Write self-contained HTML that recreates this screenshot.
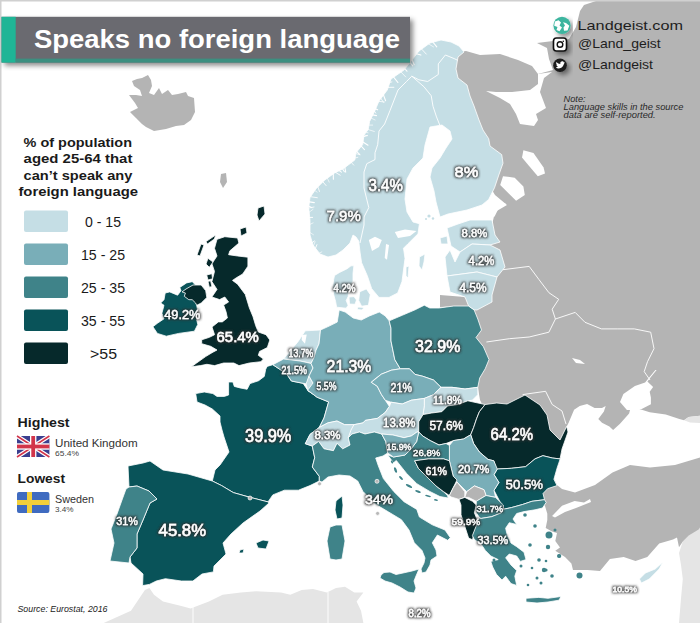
<!DOCTYPE html>
<html><head><meta charset="utf-8">
<style>
html,body{margin:0;padding:0;background:#fff;}
body{width:700px;height:623px;overflow:hidden;position:relative;font-family:"Liberation Sans",sans-serif;}
svg{position:absolute;left:0;top:0;}
.lb{font-family:"Liberation Sans",sans-serif;fill:#fff;stroke:#3a3a3a;stroke-width:1.6px;paint-order:stroke;stroke-linejoin:round;}
.big{font-size:16px;font-weight:bold;}
.sm{font-size:11px;font-weight:bold;stroke-width:1.4px;}
</style></head><body>
<svg width="700" height="623" viewBox="0 0 700 623">
<rect x="0" y="0" width="700" height="623" fill="#fff"/>
<path fill="#e5e5e5" d="M103.7,623 L131,610.7 L144.9,590 L149.4,587.9 L154,594.7 L163,601.6 L181.4,606 L190.6,608.4 L208.9,601.6 L222.6,594.7 L240.9,592.4 L256,591.3 L281,592.4 L290.3,594.7 L301.7,590 L313,589 L326.9,592.4 L336,587.9 L345,586.7 L354.3,592.4 L363.4,592.4 L356.6,601.6 L361,610.7 L363.4,623 Z"/>
<path fill="#e5e5e5" d="M682.8,541.4 L688.8,535.5 L700,527.6 L700,623 L679,623 L681,598.6 L682.8,579 L681,565 L679,553 Z"/>
<path fill="#b4b4b4" d="M596,1 L700,1 L700,527.6 L698.6,529.6 L688.8,535.5 L682.8,541.4 L679,547.3 L677,537.5 L673,539.4 L659.2,543.4 L647.3,557 L635.5,561 L623.7,557 L609.9,559 L600,571 L587.5,570 L573,570 L571.4,563.5 L565,557 L555.3,550.7 L560,547.5 L555.3,541 L557,533 L552,531.4 L545.7,528 L547.3,520 L547.3,513.7 L545,506 L540,498 L520,490 L500,440 L480,400 L470,340 L467,306 L440,307 L440,295 L465,297 L480,260 L492,225 L495,212 L507,205 L495,195 L480,170 L470,130 L455,90 L452,60 L458,52 L466,51 L480,55 L500,54 L518,60 L532,66 L538,74 L553,70 L549,59 L547,48 L537,43 L553,41 L569,39 L576,27 L580,11 L584,5 Z"/>
<path fill="#fff" d="M538,74 L552,72 L544,78 L540,92 L546,108 L536,114 L538,120 L534,126 L520,124 L516,114 L510,104 L500,98 L486,91 L496,92 L512,92 L530,90 L538,84 Z"/>
<path fill="#fff" d="M480,202.3 L491.6,199.4 L506,203.7 L498.8,208 L494.5,216.7 L488,214 Z"/>
<path fill="#fff" d="M503,176.2 L514.7,177.7 L523.4,186.4 L524.8,195 L516.1,200.8 L506,190.7 L500.2,185 Z"/>
<path fill="#fff" d="M523.4,150.2 L533.5,153 L543.6,167.6 L545,173.4 L537.8,176.2 L529.1,166 L522,157.5 Z"/>
<path fill="#fff" d="M572,358 L580,360 L585,364 L576,363 Z"/>
<path fill="#fff" d="M566.7,426.4 L568.6,422.7 L574.1,409.7 L579.7,406 L587.1,404.1 L594.6,407.9 L602,407.9 L605.7,406 L603.9,411.6 L598.3,419 L602,422.7 L609.4,426.4 L613.1,430.1 L620,423.7 L629.1,413.4 L630,410 L626.9,410 L620,402 L623.4,394 L634.9,386 L645.1,382.6 L655.4,370 L656.6,370 L650.9,376.9 L647.4,381.4 L653.1,387.1 L649.7,391.7 L650.9,397.4 L650.9,404.3 L641.7,408.9 L639.4,408.9 L649.7,412.3 L665.7,414.6 L679.4,419.1 L684,420.3 L688.6,416.9 L700,415.7 L700,457.5 L675,465 L650,467.5 L630,465 L612.5,472.5 L595,485 L575,492.5 L562,489 L557,485 L554,479 L557,468 L560,459 L562,449 L560,440 Z"/>
<path fill="#e5e5e5" d="M684,420.3 L688.6,416.9 L700,415.7 L700,423 L690,422.5 Z"/>
<path fill="#fff" d="M552,516 L555,513 L562,505.7 L574.6,501 L584,502.5 L590,499 L591,502 L576,508 L565,512 L555,517.5 Z"/>
<path fill="#b4b4b4" d="M132,81 L137,79 L142,78 L148,75 L151,80 L152,86 L149,93 L154,95 L159,88 L162,94 L168,90 L172,95 L178,94 L186,92 L188,96 L194,98 L195,112 L191,120 L184,125 L176,126 L166,129 L154,131 L146,127 L142,124 L136,118 L130,112 L138,108 L135,103 L129,95 L136,95 L142,96 L140,90 L134,86 Z"/>
<path fill="#c5dee5" stroke="#fff" stroke-width="0.8" stroke-linejoin="round" d="M441,40 L451,42 L459,46 L464,52 L458,57 L456,69 L458,78 L467,85 L470,96 L474,106 L479,120 L483,130 L488.7,138.7 L490,146 L501.7,154.6 L503,163.2 L498.8,175 L494.5,187.8 L488.7,199.4 L482,205 L467,210 L448,214 L440,217 L436,202 L434,191 L430,177 L432,168 L440,158 L446,148 L452,139 L450,131 L442,125 L430,127 L425,145 L423,158 L413,168 L407,179 L405,199 L407,212 L413,222 L419.4,223.7 L418,233.8 L407.8,243.9 L403.5,248.2 L405,258.4 L403.5,270 L402,281.5 L397.7,293 L389,297.4 L379,297.4 L371.7,288.7 L367.3,275.7 L361.6,262.7 L360,252 L358.7,241 L356,237 L353,235 L350,243 L343,250 L336,255 L328,257 L320,254 L313,245 L310,235 L310,220.6 L308.7,207.6 L310,197.5 L315.9,188.9 L324.5,180.2 L334.6,173 L343.3,168.7 L354.8,160 L356,152.8 L362.7,144.6 L364,135 L368.2,129.6 L369.6,121.4 L375,110.5 L379,101 L387.3,90 L391,79 L404,70 L419,51 L430,43 Z"/>
<path fill="#fff" d="M368.8,240 L375,236.7 L381.8,240 L379,247 L372,251 Z"/>
<path fill="#fff" d="M386,244 L389,245 L387,259.8 L384.7,258 Z"/>
<path fill="#fff" d="M394.8,232 L405,229.5 L416.5,231 L410,236 L398,238 Z"/>
<path fill="#c5dee5" stroke="#fff" stroke-width="0.8" stroke-linejoin="round" d="M419.4,257 L425,254 L424,262 L422,270 L419,266 Z"/>
<path fill="#c5dee5" stroke="#fff" stroke-width="0.8" stroke-linejoin="round" d="M406,267 L409,266 L408,278 L406,276 Z"/>
<path fill="#06292b" stroke="#fff" stroke-width="0.8" stroke-linejoin="round" d="M240,229 L246,227 L247,233 L241,236 Z"/>
<path fill="#06292b" stroke="#fff" stroke-width="0.8" stroke-linejoin="round" d="M258,208 L264,206 L265,214 L259,221 L257,215 Z"/>
<path fill="#b4b4b4" d="M221,174 L226,173 L227,182 L223,188 L220,182 Z"/>
<path fill="#c5dee5" stroke="#fff" stroke-width="0.8" stroke-linejoin="round" d="M351,265.8 L347.2,268.7 L339.5,272.5 L334.6,275.4 L333.7,279.3 L332.7,287 L333.7,294.7 L335.6,301.4 L336.6,307.2 L346.2,308.2 L348.1,305.3 L346.2,300.5 L348.1,296.6 L349,288.9 L353,281.2 L353,273.5 L353.9,265.8 Z"/>
<path fill="#c5dee5" stroke="#fff" stroke-width="0.8" stroke-linejoin="round" d="M349,297 L354,296.6 L356.5,300 L355,304.3 L349.5,304 Z"/>
<path fill="#c5dee5" stroke="#fff" stroke-width="0.8" stroke-linejoin="round" d="M359.7,291.8 L366.4,288.9 L370.3,294.7 L368.4,305.3 L361.6,306.2 L358.7,300.5 Z"/>
<path fill="#c5dee5" stroke="#fff" stroke-width="0.8" stroke-linejoin="round" d="M358,307 L364,307.5 L362,310 L357,309.5 Z"/>
<path fill="#06292b" stroke="#fff" stroke-width="0.8" stroke-linejoin="round" d="M217,239.3 L224.8,236.7 L237.6,238 L238.9,243.1 L229.9,250.8 L228.6,254.7 L237.6,256 L247.9,257.2 L247.9,266.2 L242.7,274 L236.3,277.8 L232.5,280.4 L237.6,284.2 L245.3,294.5 L249.3,307.7 L253,316.7 L255.7,325.7 L258.3,332 L266,334.7 L269.8,340 L267.3,347.6 L259.6,351.4 L258.3,355.3 L263.4,359 L260.8,361.7 L249.3,363 L239,365.6 L233.8,363 L223.6,363 L214.6,365.6 L206.9,364.3 L200.4,365.6 L191.4,366.8 L196.6,363 L205.6,356.6 L212,352.7 L217,350 L210.7,346.3 L201.7,343.7 L201.7,339.8 L209.4,337.3 L214.6,334.7 L212,327 L218.4,321.9 L222.3,321.9 L227.4,318 L226,311.6 L223.6,305 L228.6,302 L224.8,297 L219.6,299.6 L211.9,297 L217,289.4 L211.9,281.6 L214.5,271.4 L211.9,263.7 L217,256 L214.5,248.3 Z"/>
<path fill="#06292b" stroke="#fff" stroke-width="0.8" stroke-linejoin="round" d="M206,241.6 L215.7,235 L214.4,239 L207.4,244 Z"/>
<path fill="#06292b" stroke="#fff" stroke-width="0.8" stroke-linejoin="round" d="M201,244 L204,245 L200,256 L197,255 Z"/>
<path fill="#06292b" stroke="#fff" stroke-width="0.8" stroke-linejoin="round" d="M208,258.3 L213,262 L209.3,267.3 L206,264 Z"/>
<path fill="#06292b" stroke="#fff" stroke-width="0.8" stroke-linejoin="round" d="M206.7,275 L211.9,273.7 L212.5,278.8 L208,280 Z"/>
<path fill="#06292b" stroke="#fff" stroke-width="0.8" stroke-linejoin="round" d="M208,281.4 L210.6,280.8 L211.9,286.6 L209.3,287.2 Z"/>
<path fill="#095359" stroke="#fff" stroke-width="0.8" stroke-linejoin="round" d="M179.8,287.4 L186.6,282.9 L192.2,281.7 L195.6,285 L201.2,285 L205.7,290.7 L206.8,297.5 L201.2,303 L196.7,305.3 L197.8,311 L196.7,320 L197.8,324.4 L194.4,331.2 L178.7,333.4 L166.3,336.2 L157.4,333.4 L152.9,326.7 L157.4,323.3 L164,318.8 L161.9,313.2 L164,305.3 L160.7,303 L164,299.7 L165.2,293 L169.7,291.9 L177.6,295.2 L181,290.7 Z"/>
<path fill="#06292b" stroke="#fff" stroke-width="0.8" stroke-linejoin="round" d="M193,285 L201.2,285 L205.7,290.7 L206.8,297.5 L201.2,303 L196.7,305.3 L195.6,303 L192.2,299.7 L188.8,299.7 L184.3,296.3 L185.4,293 L182,291.9 L186,289 Z"/>
<path fill="#095359" stroke="#fff" stroke-width="0.8" stroke-linejoin="round" d="M195.7,393.6 L204.3,392 L212.9,393.6 L217,396.4 L224.3,396.4 L228.6,395 L228.6,382 L232.9,382 L234.3,386.4 L240,387.9 L247.1,389.3 L250,383.6 L258.6,380.7 L264.3,376.4 L265.7,369.3 L267.1,366.4 L272.8,364.7 L279.8,369.3 L286.7,374 L291.4,381 L303,383.3 L307.7,390.2 L317,397.2 L328.6,401.9 L324,418 L319.3,427.4 L310,434.4 L305.3,443.7 L312.3,446 L314.7,457.7 L312.3,467 L319.3,476.3 L319.3,481 L310,485.6 L298.4,490.2 L284.4,490.2 L272.8,494.9 L268,501.9 L249.5,497.2 L233.3,492.6 L221.6,485.6 L212.3,481 L215,470 L220,465 L229,452 L224,437 L222,430 L220,422 L220,416 L212.3,409 L205,405 L197,402 Z"/>
<path fill="#095359" stroke="#fff" stroke-width="0.8" stroke-linejoin="round" d="M336,501 L342,496 L343,505 L342,518 L337,519 L335,510 Z"/>
<path fill="#c5dee5" stroke="#fff" stroke-width="0.8" stroke-linejoin="round" d="M305.3,330.8 L320.5,330 L319,343.8 L316,350.3 L314,357.6 L311,363.4 L300,361 L283.6,359 L290.8,350.3 L298,341.7 Z"/>
<path fill="#fff" d="M302,335 L306.7,334.5 L305,343.8 L301.7,340 Z"/>
<path fill="#79aeb8" stroke="#fff" stroke-width="0.8" stroke-linejoin="round" d="M272.8,364.7 L283.6,359 L300,361 L311,363.4 L313,368 L309,376 L307,384 L303,383.3 L291.4,381 L286.7,374 L279.8,369.3 Z"/>
<path fill="#c5dee5" stroke="#fff" stroke-width="0.8" stroke-linejoin="round" d="M306,384 L309,376 L313,383 L315,390 L313,394 L308,391 Z"/>
<path fill="#79aeb8" stroke="#fff" stroke-width="0.8" stroke-linejoin="round" d="M339.2,310 L345.2,312 L353.2,318 L361.3,320 L369.3,316 L379.3,312 L385.3,316 L389.2,320.8 L391,328.2 L391,341 L394.8,359.6 L400.3,368.8 L391.4,370.2 L381.3,374.2 L373.3,380.3 L371.3,382.3 L377.3,386.3 L381.3,394.3 L385.3,400.3 L389.4,406.4 L385.3,412.4 L377.3,418.4 L365.3,420.4 L363,422.9 L353.9,424.7 L344.6,424.7 L337,421 L327.9,422.9 L319.3,427.4 L324,418 L328.6,401.9 L317,397.2 L307.7,390.2 L313,383 L309,376 L313,368 L311,363.4 L314,357.6 L316,350.3 L319,343.8 L320.5,330 L329.1,326.1 L337.2,322.1 Z"/>
<path fill="#3f8389" stroke="#fff" stroke-width="0.8" stroke-linejoin="round" d="M389.2,320.8 L402.2,315.3 L415.1,309.8 L424.3,305.2 L429.8,308 L439,308 L453.8,306 L468.6,306 L474.1,309.8 L477.8,319 L481.5,330 L476,337.5 L483.4,346.7 L489,359.6 L485.2,368.8 L479.7,378 L477.8,387.3 L465,389 L452,387.3 L441,387.3 L433.5,380 L422.5,376.2 L415,374.4 L409.5,368.8 L400.3,368.8 L394.8,359.6 L391,341 L391,328.2 Z"/>
<path fill="#79aeb8" stroke="#fff" stroke-width="0.8" stroke-linejoin="round" d="M371.3,382.3 L381.3,374.2 L391.4,370.2 L400.3,368.8 L409.5,368.8 L415,374.4 L422.5,376.2 L433.5,380 L441,387.3 L433.5,394.7 L424.3,398.4 L411.4,400.2 L402.2,404 L391,402.2 L385.3,400.3 L381.3,394.3 L377.3,386.3 Z"/>
<path fill="#c5dee5" stroke="#fff" stroke-width="0.8" stroke-linejoin="round" d="M441,387.3 L452,387.3 L465,389 L477.8,387.3 L477.8,394.7 L472.3,400.2 L467.8,400.8 L457.7,404.5 L447.6,405.9 L441.8,411.7 L431.7,413 L423,414.6 L424.3,405.8 L424.3,398.4 L433.5,394.7 Z"/>
<path fill="#c5dee5" stroke="#fff" stroke-width="0.8" stroke-linejoin="round" d="M305.3,443.7 L310,434.4 L319.3,427.4 L327.9,422.9 L337,421 L344.6,424.7 L353.9,424.7 L363,422.9 L365.3,420.4 L377.3,418.4 L385.3,412.4 L389.4,406.4 L391,402.2 L402.2,404 L411.4,400.2 L424.3,398.4 L424.3,405.8 L423,414.6 L418.7,421.8 L418.7,432 L417,432 L411.4,435.9 L404,437.7 L392.9,435 L381.7,434 L374.3,432 L365,434 L359.4,432 L352,434 L348.3,437.7 L350,445 L342.7,448.8 L337,443.3 L333.4,450.7 L324,448.8 L318.6,441.4 L312.3,446 Z"/>
<path fill="none" d="M0,0 L0,0 L0,0 Z"/>
<path fill="#3f8389" stroke="#fff" stroke-width="0.8" stroke-linejoin="round" d="M319.3,481 L319.3,476.3 L312.3,467 L314.7,457.7 L312.3,446 L318.6,441.4 L324,448.8 L333.4,450.7 L337,443.3 L342.7,448.8 L350,445 L348.3,437.7 L352,434 L359.4,432 L365,434 L374.3,432 L381.7,434 L385.8,441.6 L387.7,453 L383,456 L375.7,458 L378.3,465.7 L383.4,478.6 L393.7,491.4 L404,501.7 L416.8,509.4 L419.4,517 L432.3,524.8 L445,530 L450.3,537.7 L447.7,540.3 L437.4,535 L432.3,542.8 L436,550 L437,556 L431,560 L430,565 L426,572 L422,573 L421,569 L424,563 L425,558 L422,550.5 L414.3,542.8 L409,530 L401.4,519.7 L388.6,512 L375.7,504.3 L362.9,491.4 L357.7,481 L350,476 L339,475 L328,477 L322,482 Z"/>
<path fill="#3f8389" stroke="#fff" stroke-width="0.8" stroke-linejoin="round" d="M381,575 L384,572.5 L390,572 L396,574.5 L403,573 L412,571 L419,569 L416,576 L414,581 L416,588 L414,593 L408,592 L400,587 L392,583 L385,581 L380,578 Z"/>
<path fill="#3f8389" stroke="#fff" stroke-width="0.8" stroke-linejoin="round" d="M330,527 L336,525 L342,525 L345,541 L342,559 L336,560 L330,559 L327,541 Z"/>
<path fill="#095359" stroke="#fff" stroke-width="0.8" stroke-linejoin="round" d="M128,466 L143,463 L150,461 L163,470 L188,474 L212.3,481 L221.6,485.6 L233.3,492.6 L249.5,497.2 L268,501.9 L269,503 L260,511 L243,523 L231,534 L223,543 L226,554 L214,566 L213.4,571.9 L202,574 L192.9,581 L181.4,581 L165.4,578.7 L156.3,581 L149.4,584.4 L142.6,585.6 L143,574 L131,563 L130,557 L137,548 L137,534 L143,520 L150,503 L157,499 L149,491 L137,486 L129,487 Z"/>
<path fill="#3f8389" stroke="#fff" stroke-width="0.8" stroke-linejoin="round" d="M129,487 L137,486 L149,491 L157,499 L150,503 L143,520 L137,534 L137,548 L130,557 L129,563 L110,561 L114,543 L111,529 L117,514 L122,500 L126,489 Z"/>
<path fill="#095359" stroke="#fff" stroke-width="0.8" stroke-linejoin="round" d="M256,543 L263,540 L269,541 L266,549 L258,548 Z"/>
<path fill="#095359" stroke="#fff" stroke-width="0.8" stroke-linejoin="round" d="M240,550 L244,549 L243,553 L239,553 Z"/>
<path fill="#06292b" stroke="#fff" stroke-width="0.8" stroke-linejoin="round" d="M423,414.6 L431.7,413 L441.8,411.7 L447.6,405.9 L457.7,404.5 L467.8,400.8 L478,403 L485.1,404.5 L479.4,411.7 L476.5,418.9 L473.6,427.6 L470.7,434.8 L463.5,439 L453.4,440.6 L446,443.5 L439,445 L430.2,440.6 L423,436.2 L418.7,432 L418.7,421.8 Z"/>
<path fill="#06292b" stroke="#fff" stroke-width="0.8" stroke-linejoin="round" d="M485.1,404.5 L496.7,403 L507,404 L525,395 L540,405 L547,415 L550,430 L560,440 L566.7,426.4 L568,432 L562,449 L560,459 L552.3,458 L542.9,455.7 L535,458.9 L525.6,466.7 L511.4,468.3 L497.3,469 L496.7,471 L493.8,460.8 L488,459.4 L479.4,452 L473.6,443.5 L470.7,434.8 L473.6,427.6 L476.5,418.9 L479.4,411.7 Z"/>
<path fill="#095359" stroke="#fff" stroke-width="0.8" stroke-linejoin="round" d="M497.3,469 L511.4,468.3 L525.6,466.7 L535,458.9 L542.9,455.7 L552.3,458 L560.2,458.9 L557,468.3 L553.9,479.3 L557,485.6 L547.6,488.7 L543,493.5 L544.5,499.7 L531.9,501.3 L522.5,504.5 L511.4,507.6 L503.6,509.2 L498.9,499.7 L494,490.3 L498.9,482.5 L494,474.6 Z"/>
<path fill="#79aeb8" stroke="#fff" stroke-width="0.8" stroke-linejoin="round" d="M449.4,445.4 L453.4,440.6 L463.5,439 L470.7,434.8 L473.6,443.5 L479.4,452 L488,459.4 L493.8,460.8 L497.3,469 L494,474.6 L498.9,482.5 L494,490.3 L495.6,497.4 L486,495.5 L484,489.7 L474.4,485.9 L466.7,491.7 L457,482 L453.2,476.2 L449.4,460.8 L449.4,453 Z"/>
<path fill="#3f8389" stroke="#fff" stroke-width="0.8" stroke-linejoin="round" d="M418.7,432 L423,436.2 L430.2,440.6 L439,445 L446,443.5 L449.4,445.4 L449.4,453 L449.4,460.8 L443.6,458.9 L428.2,458.9 L414.7,460.8 L418.5,468.5 L428.2,478.2 L436,485.9 L443.6,491.7 L447.4,495.5 L448.4,498 L440,496.6 L429.7,491.4 L416.8,483.7 L406.6,473.4 L396.3,460.5 L393.5,462.8 L387.7,455 L393.5,457 L405,455 L410.8,449.3 L416.6,441.6 Z"/>
<path fill="#79aeb8" stroke="#fff" stroke-width="0.8" stroke-linejoin="round" d="M381.7,434 L392.9,435 L404,437.7 L411.4,435.9 L417,432 L418.7,432 L416.6,441.6 L410.8,449.3 L405,455 L393.5,457 L387.7,453 L385.8,441.6 Z"/>
<path fill="#06292b" stroke="#fff" stroke-width="0.8" stroke-linejoin="round" d="M414.7,460.8 L428.2,458.9 L443.6,458.9 L449.4,460.8 L453.2,476.2 L457,480 L453.2,487.8 L449.4,495.5 L443.6,491.7 L436,485.9 L428.2,478.2 L418.5,468.5 Z"/>
<path fill="#b4b4b4" stroke="#fff" stroke-width="0.8" stroke-linejoin="round" d="M449.4,495.5 L453.2,487.8 L457,482 L464.8,491.7 L464.8,497.4 L459,499.4 L451.3,497 Z"/>
<path fill="#b4b4b4" stroke="#fff" stroke-width="0.8" stroke-linejoin="round" d="M466.7,491.7 L474.4,485.9 L484,489.7 L486,495.5 L476.3,501.3 L468.6,497.4 L464.8,497.4 Z"/>
<path fill="#06292b" stroke="#fff" stroke-width="0.8" stroke-linejoin="round" d="M459,499.4 L464.8,497.4 L472.5,501.3 L476.3,505 L474.4,512.8 L478.3,522.5 L474.4,532 L472.5,539.8 L468.6,538 L464.8,526.3 L461,514.8 L461,505.1 Z"/>
<path fill="#3f8389" stroke="#fff" stroke-width="0.8" stroke-linejoin="round" d="M476.3,501.3 L486,495.5 L495.6,497.4 L503.3,505 L503.6,509.2 L501.4,512.8 L491.7,516.7 L480.2,518.6 L476.3,512.8 L476.3,505 Z"/>
<path fill="#3f8389" stroke="#fff" stroke-width="0.8" stroke-linejoin="round" d="M472.4,535.6 L476,526.4 L479.8,517 L480.2,518.6 L491.7,516.7 L501.4,512.8 L503.6,509.2 L511.4,507.6 L522.5,504.5 L531.9,501.3 L544.5,499.7 L546.2,502.4 L542.5,508 L535,509.8 L524,511.6 L516.7,513.5 L513,519 L516.7,524.5 L509.3,522.7 L505.6,528.2 L507.4,535.6 L511,543 L516.7,546.7 L524,552.2 L526,559.6 L520.3,561.4 L516.7,556 L509.3,554 L505.6,557.7 L511,565 L516.7,570.6 L514.8,576.2 L516.7,585.4 L511,583.6 L505.6,576.2 L502,580 L496.4,574.3 L492.7,567 L490.8,561.4 L498.2,559.6 L490.8,556 L485.3,550.4 L481.6,544.8 L474.2,539.3 Z"/>
<path fill="#3f8389" stroke="#fff" stroke-width="0.8" stroke-linejoin="round" d="M526,598.3 L538.8,597.4 L548,598.3 L561,596.5 L559,600.2 L548,602 L537,603 L526,602 Z"/>
<path fill="#c5dee5" stroke="#fff" stroke-width="0.8" stroke-linejoin="round" d="M447,228 L458,224 L470,220 L492,220 L495,235 L500,242 L490,245 L472,244 L460,252 L451,246 Z"/>
<path fill="#c5dee5" stroke="#fff" stroke-width="0.8" stroke-linejoin="round" d="M445,257 L450,250 L455,262 L460,252 L472,244 L490,245 L500,250 L505,267 L497,277 L477,272 L447,276 Z"/>
<path fill="#c5dee5" stroke="#fff" stroke-width="0.8" stroke-linejoin="round" d="M447,276 L477,272 L497,277 L492,295 L492,302 L477,310 L474.1,309.8 L468.6,306 L465,297 L450,292 Z"/>
<path fill="#c5dee5" stroke="#fff" stroke-width="0.8" stroke-linejoin="round" d="M440,238 L447,236 L448,244 L441,244 Z"/>
<path fill="#c5dee5" stroke="#fff" stroke-width="0.8" stroke-linejoin="round" d="M639.4,579 L645.4,573 L655.2,569 L663,562 L659.2,569 L649.3,579 L641.4,583 Z"/>
<circle cx="525" cy="515" r="1.8" fill="#3f8389"/>
<circle cx="535" cy="526" r="1.8" fill="#3f8389"/>
<circle cx="549" cy="535" r="3.5" fill="#3f8389"/>
<circle cx="548" cy="547" r="2.2" fill="#3f8389"/>
<circle cx="559.5" cy="556" r="1.8" fill="#3f8389"/>
<circle cx="579.5" cy="575.5" r="3" fill="#3f8389"/>
<circle cx="546" cy="570" r="1.6" fill="#3f8389"/>
<circle cx="530" cy="545" r="1.8" fill="#3f8389"/>
<circle cx="539" cy="560" r="1.8" fill="#3f8389"/>
<circle cx="544" cy="570" r="2.2" fill="#3f8389"/>
<circle cx="559" cy="556" r="2" fill="#3f8389"/>
<circle cx="552" cy="576" r="1.8" fill="#3f8389"/>
<circle cx="537" cy="578" r="1.5" fill="#3f8389"/>
<circle cx="546" cy="561" r="1.3" fill="#3f8389"/>
<circle cx="555" cy="530" r="1.5" fill="#3f8389"/>
<circle cx="521" cy="566" r="1.5" fill="#3f8389"/>
<circle cx="532" cy="568" r="1.3" fill="#3f8389"/>
<circle cx="541" cy="583" r="1.5" fill="#3f8389"/>
<circle cx="528" cy="585" r="1.3" fill="#3f8389"/>
<circle cx="498" cy="548" r="1.5" fill="#3f8389"/>
<circle cx="494" cy="560" r="1.5" fill="#3f8389"/>
<path fill="none" stroke="#fff" stroke-width="0.9" stroke-linejoin="round" d="M353.9,424.7 L351,430 L348.3,437.7"/>
<path fill="none" stroke="#fff" stroke-width="0.9" stroke-linejoin="round" d="M193,605 L193,623"/>
<path fill="none" stroke="#fff" stroke-width="0.9" stroke-linejoin="round" d="M328,592 L328,623"/>
<path fill="none" stroke="#fff" stroke-width="0.9" stroke-linejoin="round" d="M411.8,76.2 L406.5,81.5 L398,90 L390,110.5 L384.6,124 L379,131 L377.7,144.6 L375,152.8 L375,159.6 L366.8,163.7 L364,172 L364,188 L368.8,207.6 L364,217 L364,225 L360,243"/>
<path fill="none" stroke="#fff" stroke-width="0.9" stroke-linejoin="round" d="M411.8,76.2 L424,86.8 L431.2,95.7 L433,106.3 L436.5,116.9 L440,125.7"/>
<path fill="none" stroke="#fff" stroke-width="0.9" stroke-linejoin="round" d="M411.8,76.2 L418.9,79.8 L427.7,81.5 L438.3,74.5 L438.3,63.9 L445.4,55 L454.2,58.6 L457.7,60.3"/>
<path fill="none" stroke="#fff" stroke-width="0.9" stroke-linejoin="round" d="M502.9,269.7 L529.2,266.4 L539,279.6 L548.9,292.7 L558.7,299.3 L552.2,309.2 L555.4,319"/>
<path fill="none" stroke="#fff" stroke-width="0.9" stroke-linejoin="round" d="M486.4,342 L509.4,338.7 L529.2,337 L548.9,332.2 L555.4,319"/>
<path fill="none" stroke="#fff" stroke-width="0.9" stroke-linejoin="round" d="M555.4,319 L575.2,312.4 L585,322.3 L601.4,328.9 L617.9,328.9 L634.3,328.9 L650.7,332.2 L654,348.6 L647.5,361.7 L644.2,371.6 L650,380"/>
<path fill="none" stroke="#fff" stroke-width="0.9" stroke-linejoin="round" d="M522.6,394.6 L545.6,391.3 L552.2,404.5 L562,411 L566,424"/>
<path d="M318.0,253.8 L321.8,251.9" stroke="#fff" stroke-width="0.64" stroke-linecap="round"/>
<path d="M314.9,249.6 L316.9,244.7" stroke="#fff" stroke-width="0.90" stroke-linecap="round"/>
<path d="M312.9,247.1 L315.1,241.8" stroke="#fff" stroke-width="0.65" stroke-linecap="round"/>
<path d="M311.0,243.4 L314.4,241.0" stroke="#fff" stroke-width="0.98" stroke-linecap="round"/>
<path d="M308.7,231.7 L313.4,234.7" stroke="#fff" stroke-width="0.63" stroke-linecap="round"/>
<path d="M308.6,225.0 L313.1,222.9" stroke="#fff" stroke-width="0.67" stroke-linecap="round"/>
<path d="M308.2,217.4 L312.6,217.4" stroke="#fff" stroke-width="0.98" stroke-linecap="round"/>
<path d="M307.9,213.1 L313.0,209.4" stroke="#fff" stroke-width="0.64" stroke-linecap="round"/>
<path d="M307.3,208.3 L314.0,207.0" stroke="#fff" stroke-width="0.79" stroke-linecap="round"/>
<path d="M307.5,205.5 L312.0,207.8" stroke="#fff" stroke-width="1.02" stroke-linecap="round"/>
<path d="M308.0,201.6 L314.3,202.6" stroke="#fff" stroke-width="1.13" stroke-linecap="round"/>
<path d="M309.0,196.5 L317.3,197.7" stroke="#fff" stroke-width="0.85" stroke-linecap="round"/>
<path d="M313.5,189.7 L317.1,192.1" stroke="#fff" stroke-width="0.62" stroke-linecap="round"/>
<path d="M317.4,185.5 L319.5,191.5" stroke="#fff" stroke-width="0.79" stroke-linecap="round"/>
<path d="M322.0,180.7 L326.1,185.6" stroke="#fff" stroke-width="0.87" stroke-linecap="round"/>
<path d="M326.7,176.8 L329.2,182.1" stroke="#fff" stroke-width="0.64" stroke-linecap="round"/>
<path d="M333.2,172.5 L333.4,179.2" stroke="#fff" stroke-width="1.09" stroke-linecap="round"/>
<path d="M334.3,171.7 L340.2,175.2" stroke="#fff" stroke-width="0.88" stroke-linecap="round"/>
<path d="M337.9,169.9 L341.4,172.1" stroke="#fff" stroke-width="1.06" stroke-linecap="round"/>
<path d="M341.8,167.8 L344.4,171.7" stroke="#fff" stroke-width="1.12" stroke-linecap="round"/>
<path d="M344.6,166.1 L345.7,172.2" stroke="#fff" stroke-width="1.09" stroke-linecap="round"/>
<path d="M350.4,161.5 L353.7,165.1" stroke="#fff" stroke-width="0.82" stroke-linecap="round"/>
<path d="M353.7,158.3 L357.8,157.3" stroke="#fff" stroke-width="0.74" stroke-linecap="round"/>
<path d="M354.4,153.2 L360.1,154.8" stroke="#fff" stroke-width="0.76" stroke-linecap="round"/>
<path d="M355.8,150.7 L359.6,154.4" stroke="#fff" stroke-width="1.17" stroke-linecap="round"/>
<path d="M360.3,145.1 L364.5,149.6" stroke="#fff" stroke-width="1.01" stroke-linecap="round"/>
<path d="M361.8,141.2 L368.0,145.3" stroke="#fff" stroke-width="1.08" stroke-linecap="round"/>
<path d="M362.4,137.2 L367.5,135.4" stroke="#fff" stroke-width="0.98" stroke-linecap="round"/>
<path d="M362.6,134.5 L367.0,135.7" stroke="#fff" stroke-width="0.80" stroke-linecap="round"/>
<path d="M364.7,131.9 L368.1,132.8" stroke="#fff" stroke-width="0.66" stroke-linecap="round"/>
<path d="M366.8,129.1 L374.3,131.5" stroke="#fff" stroke-width="0.69" stroke-linecap="round"/>
<path d="M367.5,125.1 L372.7,125.1" stroke="#fff" stroke-width="0.67" stroke-linecap="round"/>
<path d="M369.9,117.5 L375.1,120.0" stroke="#fff" stroke-width="0.65" stroke-linecap="round"/>
<path d="M371.3,114.6 L376.5,115.6" stroke="#fff" stroke-width="1.10" stroke-linecap="round"/>
<path d="M373.8,110.1 L375.7,113.1" stroke="#fff" stroke-width="0.92" stroke-linecap="round"/>
<path d="M374.3,108.3 L377.6,109.8" stroke="#fff" stroke-width="1.19" stroke-linecap="round"/>
<path d="M377.3,101.2 L384.3,102.0" stroke="#fff" stroke-width="0.82" stroke-linecap="round"/>
<path d="M380.1,97.2 L383.5,102.3" stroke="#fff" stroke-width="0.80" stroke-linecap="round"/>
<path d="M383.0,93.6 L385.6,100.7" stroke="#fff" stroke-width="1.11" stroke-linecap="round"/>
<path d="M386.7,87.3 L393.9,87.3" stroke="#fff" stroke-width="0.91" stroke-linecap="round"/>
<path d="M388.4,82.8 L391.9,81.9" stroke="#fff" stroke-width="0.77" stroke-linecap="round"/>
<path d="M392.8,76.0 L397.9,82.5" stroke="#fff" stroke-width="1.16" stroke-linecap="round"/>
<path d="M400.0,71.0 L405.7,76.9" stroke="#fff" stroke-width="0.73" stroke-linecap="round"/>
<path d="M403.9,67.8 L407.0,71.1" stroke="#fff" stroke-width="1.14" stroke-linecap="round"/>
<path d="M408.9,61.4 L412.8,65.9" stroke="#fff" stroke-width="1.08" stroke-linecap="round"/>
<path d="M411.4,58.4 L414.2,64.7" stroke="#fff" stroke-width="1.07" stroke-linecap="round"/>
<path d="M415.3,53.5 L420.9,55.1" stroke="#fff" stroke-width="1.07" stroke-linecap="round"/>
<path d="M420.6,48.0 L426.3,54.1" stroke="#fff" stroke-width="0.84" stroke-linecap="round"/>
<path d="M427.4,43.2 L433.5,46.9" stroke="#fff" stroke-width="0.68" stroke-linecap="round"/>
<path d="M432.0,41.0 L436.8,46.8" stroke="#fff" stroke-width="1.10" stroke-linecap="round"/>
<circle cx="250" cy="498" r="2" fill="#b8b8b8" stroke="#fff" stroke-width="0.7"/>
<circle cx="319.5" cy="483.8" r="2" fill="#b8b8b8" stroke="#fff" stroke-width="0.7"/>
<circle cx="377" cy="481.3" r="2" fill="#b8b8b8" stroke="#fff" stroke-width="0.7"/>
<circle cx="377.6" cy="513.4" r="2" fill="#b8b8b8" stroke="#fff" stroke-width="0.7"/>
<ellipse cx="395.5" cy="470" rx="3" ry="1.2" transform="rotate(70 395.5 470)" fill="#3f8389"/>
<ellipse cx="401" cy="478" rx="2.5" ry="1" transform="rotate(45 401 478)" fill="#3f8389"/>
<ellipse cx="409" cy="486" rx="3.5" ry="1.1" transform="rotate(30 409 486)" fill="#3f8389"/>
<ellipse cx="418" cy="491.5" rx="3" ry="1" transform="rotate(20 418 491.5)" fill="#3f8389"/>
<ellipse cx="428" cy="496" rx="3" ry="0.9" transform="rotate(15 428 496)" fill="#3f8389"/>
<ellipse cx="436" cy="500" rx="2" ry="0.8" transform="rotate(10 436 500)" fill="#3f8389"/>
<ellipse cx="392" cy="462" rx="1.6" ry="0.9" transform="rotate(60 392 462)" fill="#3f8389"/>
<circle cx="429" cy="216" r="1.6" fill="#c5dee5"/>
<circle cx="433" cy="218.5" r="1.2" fill="#c5dee5"/>
<circle cx="426" cy="219" r="1.0" fill="#c5dee5"/>
<defs><filter id="ts" x="-20%" y="-40%" width="140%" height="180%"><feMorphology in="SourceAlpha" operator="dilate" radius="0.55" result="d"/><feGaussianBlur in="d" stdDeviation="0.8" result="b"/><feFlood flood-color="#2e2e2e" flood-opacity="0.85"/><feComposite in2="b" operator="in" result="s"/><feMerge><feMergeNode in="s"/><feMergeNode in="SourceGraphic"/></feMerge></filter></defs>
<g font-family="Liberation Sans, sans-serif" fill="#fff" stroke="#fff" filter="url(#ts)">
<text x="368.6" y="190.9" font-size="16.1" stroke-width="0.45" textLength="34.2" lengthAdjust="spacingAndGlyphs">3.4%</text>
<text x="326.6" y="221.4" font-size="13.9" stroke-width="0.3" textLength="34.2" lengthAdjust="spacingAndGlyphs">7.9%</text>
<text x="454.6" y="177.2" font-size="14.7" stroke-width="0.45" textLength="23.8" lengthAdjust="spacingAndGlyphs">8%</text>
<text x="461.6" y="236.9" font-size="11.5" stroke-width="0.3" textLength="25.8" lengthAdjust="spacingAndGlyphs">8.8%</text>
<text x="468.6" y="264.9" font-size="11.9" stroke-width="0.3" textLength="25.8" lengthAdjust="spacingAndGlyphs">4.2%</text>
<text x="459.4" y="292.4" font-size="12.9" stroke-width="0.3" textLength="27.1" lengthAdjust="spacingAndGlyphs">4.5%</text>
<text x="333.6" y="291.9" font-size="10.5" stroke-width="0.3" textLength="21.8" lengthAdjust="spacingAndGlyphs">4.2%</text>
<text x="164.3" y="319.4" font-size="12.2" stroke-width="0.3" textLength="36.0" lengthAdjust="spacingAndGlyphs">49.2%</text>
<text x="216.6" y="341.7" font-size="14.2" stroke-width="0.45" textLength="42.2" lengthAdjust="spacingAndGlyphs">65.4%</text>
<text x="288.6" y="356.9" font-size="10.5" stroke-width="0.3" textLength="24.6" lengthAdjust="spacingAndGlyphs">13.7%</text>
<text x="281.6" y="374.4" font-size="10.8" stroke-width="0.3" textLength="25.3" lengthAdjust="spacingAndGlyphs">21.5%</text>
<text x="326.6" y="371.9" font-size="17.4" stroke-width="0.45" textLength="44.8" lengthAdjust="spacingAndGlyphs">21.3%</text>
<text x="415.1" y="352.4" font-size="16.4" stroke-width="0.45" textLength="45.3" lengthAdjust="spacingAndGlyphs">32.9%</text>
<text x="316.6" y="390.4" font-size="10.1" stroke-width="0.3" textLength="19.8" lengthAdjust="spacingAndGlyphs">5.5%</text>
<text x="390.6" y="391.9" font-size="12.2" stroke-width="0.3" textLength="21.3" lengthAdjust="spacingAndGlyphs">21%</text>
<text x="433.1" y="403.9" font-size="11.5" stroke-width="0.3" textLength="28.8" lengthAdjust="spacingAndGlyphs">11.8%</text>
<text x="383.1" y="426.9" font-size="12.2" stroke-width="0.3" textLength="32.3" lengthAdjust="spacingAndGlyphs">13.8%</text>
<text x="429.4" y="430.4" font-size="12.2" stroke-width="0.3" textLength="33.8" lengthAdjust="spacingAndGlyphs">57.6%</text>
<text x="245.1" y="442.1" font-size="17.9" stroke-width="0.45" textLength="46.3" lengthAdjust="spacingAndGlyphs">39.9%</text>
<text x="314.4" y="438.9" font-size="11.5" stroke-width="0.3" textLength="26.1" lengthAdjust="spacingAndGlyphs">8.3%</text>
<text x="158.6" y="536.0" font-size="15.8" stroke-width="0.45" textLength="47.4" lengthAdjust="spacingAndGlyphs">45.8%</text>
<text x="116.3" y="525.4" font-size="10.8" stroke-width="0.3" textLength="21.7" lengthAdjust="spacingAndGlyphs">31%</text>
<text x="364.9" y="504.4" font-size="12.8" stroke-width="0.3" textLength="28.3" lengthAdjust="spacingAndGlyphs">34%</text>
<text x="490.6" y="440.1" font-size="16.7" stroke-width="0.45" textLength="42.5" lengthAdjust="spacingAndGlyphs">64.2%</text>
<text x="386.6" y="449.9" font-size="9.4" stroke-width="0.3" textLength="24.8" lengthAdjust="spacingAndGlyphs">15.9%</text>
<text x="413.1" y="456.4" font-size="9.8" stroke-width="0.3" textLength="27.3" lengthAdjust="spacingAndGlyphs">26.8%</text>
<text x="425.6" y="475.4" font-size="10.1" stroke-width="0.3" textLength="21.3" lengthAdjust="spacingAndGlyphs">61%</text>
<text x="458.1" y="473.1" font-size="10.5" stroke-width="0.3" textLength="31.3" lengthAdjust="spacingAndGlyphs">20.7%</text>
<text x="505.6" y="488.9" font-size="13.3" stroke-width="0.3" textLength="37.5" lengthAdjust="spacingAndGlyphs">50.5%</text>
<text x="476.6" y="512.4" font-size="9.4" stroke-width="0.3" textLength="26.6" lengthAdjust="spacingAndGlyphs">31.7%</text>
<text x="451.6" y="524.9" font-size="9.4" stroke-width="0.3" textLength="28.8" lengthAdjust="spacingAndGlyphs">59.9%</text>
<text x="477.6" y="544.4" font-size="10.5" stroke-width="0.3" textLength="30.6" lengthAdjust="spacingAndGlyphs">33.5%</text>
<text x="612.4" y="592.1" font-size="7.9" stroke-width="0.3" textLength="24.5" lengthAdjust="spacingAndGlyphs">10.5%</text>
<text x="408.6" y="617.4" font-size="10.1" stroke-width="0.3" textLength="21.8" lengthAdjust="spacingAndGlyphs">8.2%</text>
</g>
<!-- frame lines -->
<rect x="0" y="0" width="700" height="1.5" fill="#d0d0d0"/>
<rect x="0" y="0" width="1.5" height="623" fill="#d0d0d0"/>
<!-- title bar -->
<defs><filter id="sh" x="-5%" y="-20%" width="115%" height="160%"><feDropShadow dx="3" dy="3" stdDeviation="2.5" flood-color="#000" flood-opacity="0.45"/></filter></defs>
<g filter="url(#sh)">
<rect x="1.5" y="16.8" width="408.5" height="45.8" fill="#6b6b70"/>
</g>
<rect x="1.5" y="16.8" width="14.2" height="45.8" fill="#1fb596"/>
<rect x="15.7" y="58.6" width="394.3" height="4" fill="#3c8f80"/>
<text x="34" y="47.5" textLength="366" lengthAdjust="spacingAndGlyphs" style="font-family:'Liberation Sans',sans-serif;font-weight:bold;font-size:25px;fill:#fff">Speaks no foreign language</text>
<!-- legend heading -->
<g style="font-family:'Liberation Sans',sans-serif;font-weight:bold;font-size:13.5px;fill:#1a1a1a" text-anchor="start">
<text x="23.6" y="146.6" textLength="108.4" lengthAdjust="spacingAndGlyphs">% of population</text>
<text x="23.6" y="163" textLength="108.8" lengthAdjust="spacingAndGlyphs">aged 25-64 that</text>
<text x="23.6" y="180" textLength="108.8" lengthAdjust="spacingAndGlyphs">can’t speak any</text>
<text x="18.4" y="196" textLength="119.6" lengthAdjust="spacingAndGlyphs">foreign language</text>
</g>
<!-- legend boxes -->
<rect x="24" y="210.5" width="44" height="21.5" rx="2" fill="#c5dee5"/>
<rect x="24" y="243.5" width="44" height="21.5" rx="2" fill="#79aeb8"/>
<rect x="24" y="276.5" width="44" height="21.5" rx="2" fill="#3f8389"/>
<rect x="24" y="309.5" width="44" height="21.5" rx="2" fill="#095359"/>
<rect x="24" y="342.5" width="44" height="21.5" rx="2" fill="#06292b"/>
<g style="font-family:'Liberation Sans',sans-serif;font-size:15px;fill:#1a1a1a">
<text x="85" y="227" textLength="36" lengthAdjust="spacingAndGlyphs">0 - 15</text>
<text x="81" y="260" textLength="44" lengthAdjust="spacingAndGlyphs">15 - 25</text>
<text x="81" y="293" textLength="44" lengthAdjust="spacingAndGlyphs">25 - 35</text>
<text x="81" y="326" textLength="44" lengthAdjust="spacingAndGlyphs">35 - 55</text>
<text x="90" y="359" textLength="27" lengthAdjust="spacingAndGlyphs">&gt;55</text>
</g>
<!-- highest / lowest -->
<g style="font-family:'Liberation Sans',sans-serif;fill:#1a1a1a">
<text x="17.6" y="427" textLength="52" lengthAdjust="spacingAndGlyphs" style="font-weight:bold;font-size:12.5px">Highest</text>
<text x="17.6" y="483.4" textLength="47.4" lengthAdjust="spacingAndGlyphs" style="font-weight:bold;font-size:12.5px">Lowest</text>
<text x="55" y="446.6" textLength="82.6" lengthAdjust="spacingAndGlyphs" style="font-size:11.5px;fill:#333">United Kingdom</text>
<text x="55" y="456" textLength="24" lengthAdjust="spacingAndGlyphs" style="font-size:8px;fill:#444">65.4%</text>
<text x="55" y="503" textLength="39" lengthAdjust="spacingAndGlyphs" style="font-size:11.5px;fill:#333">Sweden</text>
<text x="55" y="512.4" textLength="18.6" lengthAdjust="spacingAndGlyphs" style="font-size:8px;fill:#444">3.4%</text>
<text x="17.5" y="612" textLength="90" lengthAdjust="spacingAndGlyphs" style="font-style:italic;font-size:9px;fill:#222">Source: Eurostat, 2016</text>
</g>
<!-- UK flag -->
<g>
<rect x="17" y="436" width="32.4" height="21" fill="#3b3f8f"/>
<path d="M17,436 L49.4,457 M49.4,436 L17,457" stroke="#fff" stroke-width="4"/>
<path d="M17,436 L49.4,457 M49.4,436 L17,457" stroke="#d2344a" stroke-width="1.5"/>
<rect x="30" y="436" width="6.4" height="21" fill="#fff"/>
<rect x="17" y="443.3" width="32.4" height="6.4" fill="#fff"/>
<rect x="31.3" y="436" width="3.8" height="21" fill="#d2344a"/>
<rect x="17" y="444.6" width="32.4" height="3.8" fill="#d2344a"/>
</g>
<!-- Sweden flag -->
<g>
<rect x="17" y="492" width="32.4" height="21" rx="2" fill="#3f6bc0"/>
<rect x="27" y="492" width="5" height="21" fill="#f2cf3a"/>
<rect x="17" y="500" width="32.4" height="5" fill="#f2cf3a"/>
</g>
<!-- social -->
<g filter="url(#sh)">
<circle cx="562" cy="25.4" r="8.6" fill="#3db59f"/>
<rect x="553.5" y="38" width="13" height="13" rx="3" fill="#fff" stroke="#111" stroke-width="1.6"/>
<circle cx="560" cy="65.2" r="6.8" fill="#1a1a1a"/>
</g>
<path d="M554.9,21.5 L558.6,20.2 L561,22.5 L559.5,25.5 L562,27.5 L559.5,31.2 L556.5,30 L557.5,27 L554.2,25.7 Z M563,22.2 L566,23 L569.3,25.7 L567.5,30.5 L564,30.8 L563.5,27.5 L565,25.5 Z" fill="#fff"/>
<circle cx="560" cy="44.5" r="2.8" fill="none" stroke="#111" stroke-width="1.4"/>
<circle cx="563.3" cy="41.3" r="0.8" fill="#111"/>
<g transform="translate(0.4,1.2)"><path d="M555.5,66.5 C557.5,67.8 561.5,67.5 563,64 C563.5,62.8 564,61.8 564.5,61 L563.5,61.2 C563.2,60 561.5,59.5 560.5,60.5 C559.8,61.2 559.8,62 560,62.7 C558.5,62.6 557,61.8 556,60.7 C555.5,61.8 555.9,63 556.8,63.6 L556,63.4 C556,64.4 556.7,65.2 557.6,65.4 C557,65.6 556.5,65.9 555.5,66.5 Z" fill="#fff"/></g>
<g style="font-family:'Liberation Sans',sans-serif;fill:#1e1e1e">
<text x="577.6" y="29.5" textLength="105.4" lengthAdjust="spacingAndGlyphs" style="font-size:13px">Landgeist.com</text>
<text x="578" y="48" textLength="82.7" lengthAdjust="spacingAndGlyphs" style="font-size:13px">@Land_geist</text>
<text x="578" y="69" textLength="75" lengthAdjust="spacingAndGlyphs" style="font-size:13px">@Landgeist</text>
</g>
<g style="font-family:'Liberation Sans',sans-serif;font-style:italic;font-size:9px;fill:#2a2a2a">
<text x="563.6" y="101.6" textLength="22" lengthAdjust="spacingAndGlyphs">Note:</text>
<text x="563.6" y="110" textLength="119.8" lengthAdjust="spacingAndGlyphs">Language skills in the source</text>
<text x="563.6" y="118.3" textLength="92.1" lengthAdjust="spacingAndGlyphs">data are self-reported.</text>
</g>

</svg>
</body></html>
